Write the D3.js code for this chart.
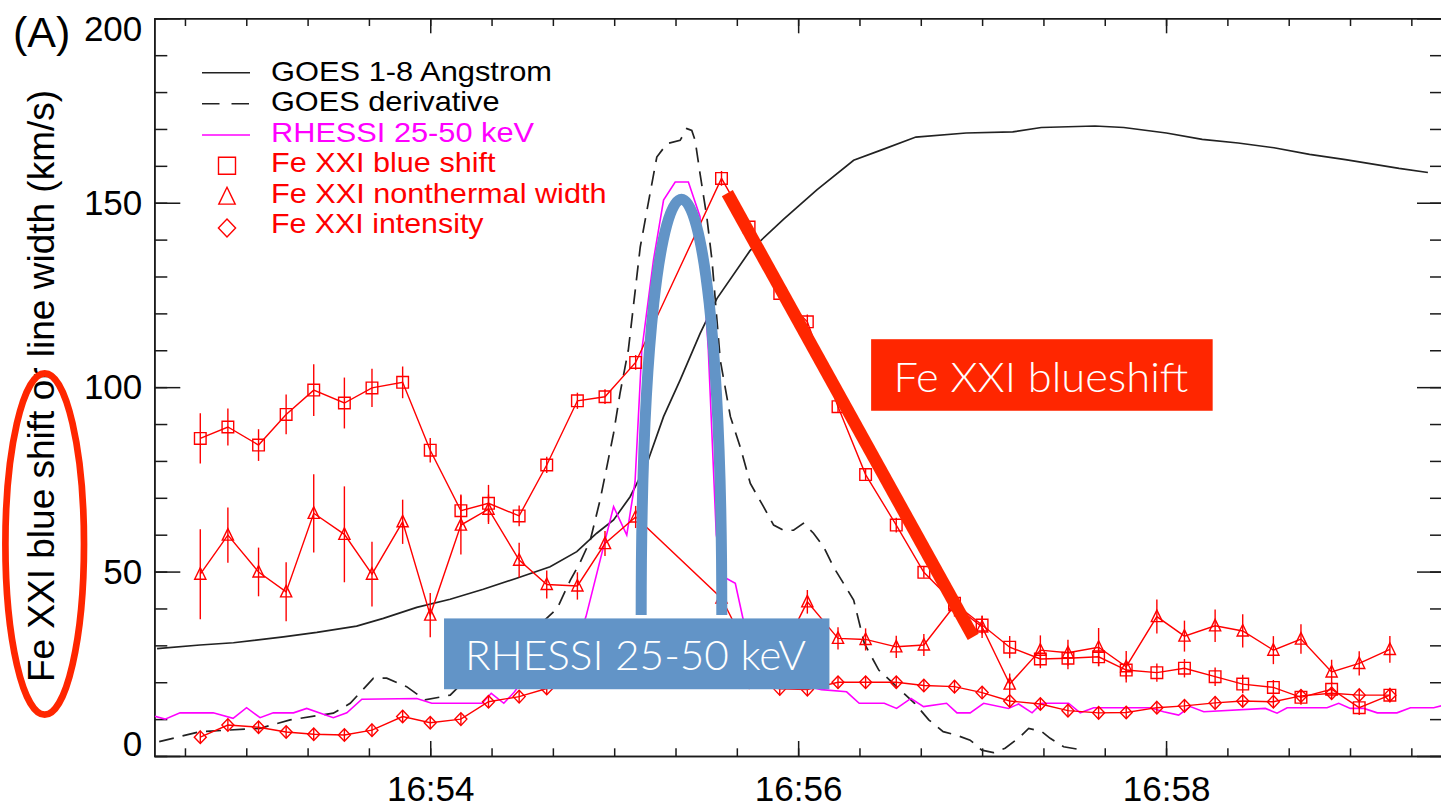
<!DOCTYPE html>
<html><head><meta charset="utf-8">
<script src="https://cdn.jsdelivr.net/npm/d3@7"></script>
<style>html,body{margin:0;padding:0;background:#fff;overflow:hidden}</style>
</head><body>
<svg id="c" width="1441" height="807"></svg>
<script>
// ---------------- DATA ----------------
const tickLabelsX = ["16:54", "16:56", "16:58"];
const tickValuesY = [0, 50, 100, 150, 200];

// Fe XXI measurements (EIS raster times)
const feTimes = ["16:52:45","16:52:54","16:53:04","16:53:13","16:53:22","16:53:32","16:53:41","16:53:51","16:54:00","16:54:10",
  "16:54:19","16:54:29","16:54:38","16:54:48","16:54:57","16:55:07","16:55:35","16:55:44","16:55:54","16:56:03",
  "16:56:13","16:56:22","16:56:32","16:56:41","16:56:51","16:57:00","16:57:09","16:57:19","16:57:28","16:57:38",
  "16:57:47","16:57:57","16:58:06","16:58:16","16:58:25","16:58:35","16:58:44","16:58:54","16:59:03","16:59:13"];
const blueShift = [86.1,89.2,84.3,92.6,99.2,95.7,99.8,101.3,82.9,66.5,
  68.5,65.1,78.9,96.3,97.4,106.7,156.6,143.4,125.4,117.7,
  94.7,76.3,62.6,49.8,41.4,35.5,29.5,26.3,26.5,26.9,
  23.3,22.6,23.8,21.5,19.5,18.6,15.9,18.1,13.1,16.5];
const blueShiftErr = [6.8,5.0,4.3,5.4,7.0,6.9,5.2,4.3,3.3,4.4,
  5.0,2.8,2.2,2.2,2.0,2.0,2.0,1.5,1.5,2.0,
  1.5,1.5,2.0,1.5,2.0,2.5,3.0,2.5,3.0,2.5,
  2.5,2.5,2.5,2.5,2.5,2.0,2.0,2.0,2.0,2.0];
const ntWidth = [49.3,59.9,49.9,44.5,65.8,60.1,49.3,63.5,38.2,62.6,
  66.9,53.1,46.5,46.1,57.6,64.8,42.8,28.0,27.0,41.8,
  31.9,31.6,29.6,30.1,40.8,35.0,19.5,28.7,28.0,29.5,
  24.2,37.8,32.5,35.3,33.9,28.7,31.7,22.8,25.1,28.9];
const ntWidthErr = [12.2,7.5,6.6,8.0,10.6,13.0,8.8,6.0,6.0,8.0,
  4.0,4.7,3.8,3.7,3.4,3.0,2.0,2.5,2.5,3.2,
  3.0,3.0,3.0,3.0,3.0,3.0,2.9,4.0,3.5,5.2,
  4.3,4.6,4.2,4.4,4.5,3.8,4.0,3.3,3.3,3.6];
const intensity = [5.1,8.4,7.8,6.5,5.9,5.7,7.0,10.7,9.0,10.0,
  14.7,16.1,18.3,21.0,23.0,25.0,22.0,20.0,18.2,18.0,
  20.0,20.0,20.0,19.1,18.8,17.2,14.9,14.1,12.3,11.7,
  11.8,13.1,13.6,14.4,14.9,14.7,16.3,17.0,16.5,16.5];
const intensityErr = [1.6,1.5,1.6,1.6,1.5,1.6,1.6,1.7,1.6,1.6,
  1.7,1.6,1.6,1.6,1.6,1.6,1.6,1.6,1.7,1.6,
  1.7,1.6,1.6,1.6,1.7,1.6,1.6,1.6,1.5,1.6,
  1.6,1.6,1.6,1.7,1.6,1.6,1.7,1.6,1.6,1.6];

// GOES 1-8 A (scaled), seconds after 16:52:00
const goesSec = [30.9,44.9,55.8,72.1,83.0,96.0,104.7,115.6,126.5,137.3,
  148.2,159.1,167.8,174.3,179.8,185.2,190.7,196.1,201.5,208.0,
  213.5,224.3,235.2,246.1,258.1,266.8,278.4,294.8,310.0,319.3,
  336.8,346.2,360.1,371.8,383.5,395.2,406.8,418.5,436.0,445.4];
const goesVal = [29.1,30.1,30.7,32.3,33.5,35.2,37.3,40.3,42.5,45.2,
  48.2,51.3,55.4,60.4,64.0,70.3,79.3,92.0,101.9,114.5,
  124.0,137.0,145.5,153.5,161.5,164.2,167.8,168.9,169.2,170.4,
  170.8,170.4,168.9,167.2,166.2,164.9,163.1,161.7,159.3,158.2];

// GOES derivative (scaled), seconds after 16:52:00
const derivSec = [31.6,44.9,64.5,74.3,88.4,93.9,101.5,105.8,112.3,118.3,
  126.5,128.8,139.5,149.3,157.5,161.4,165.7,168.9,172.2,175.4,
  177.6,179.8,181.9,184.6,188.5,190.7,193.9,197.2,201.5,203.7,
  205.3,206.4,208.0,210.2,211.9,214.6,217.9,221.1,224.4,228.7,
  232.0,235.2,238.5,241.7,245.0,248.3,251.5,254.8,258.1,261.6,
  266.3,273.3,278.0,282.6,287.3,291.4,296.1,299.9,303.7,307.5,
  312.4,315.2,319.5,322.2,326.6,331.5];
const derivVal = [3.9,6.6,7.5,9.8,11.6,14.3,21.1,21.1,18.8,15.2,
  16.5,18.4,25.0,31.0,37.0,40.0,47.7,52.5,58.5,69.4,
  78.4,87.5,98.3,110.0,138.0,148.0,162.4,166.0,166.9,170.1,
  169.6,166.9,157.9,146.2,134.4,107.3,92.0,83.8,73.9,67.6,
  62.6,61.2,61.2,63.1,60.4,56.7,51.3,46.8,42.3,30.5,
  23.3,17.9,14.3,9.8,6.6,5.7,4.3,1.6,0.9,2.1,
  5.2,7.5,6.6,4.8,2.5,1.8];

// RHESSI 25-50 keV (scaled), seconds after 16:52:00
const rhessiSec = [30.2,33.5,38.4,49.2,55.7,60.1,64.5,68.8,75.4,79.7,
  88.4,92.8,97.7,115.6,120.5,136.9,139.9,144.0,147.5,148.7,
  155.8,162.4,167.3,170.8,179.8,184.1,186.8,189.0,192.8,196.1,
  199.9,204.2,208.0,210.7,213.3,215.6,219.5,222.0,227.6,237.4,
  247.6,255.8,259.9,268.1,272.1,276.8,280.9,288.4,291.8,296.1,
  300.5,308.6,311.9,316.3,319.5,328.2,332.0,336.4,354.9,359.2,
  364.1,367.9,372.3,392.4,396.2,399.5,412.5,416.3,420.1,424.5,
  428.9,435.3,439.7,447.3,449.8];
const rhessiVal = [10.8,10.0,11.7,11.7,10.2,13.1,10.4,11.7,11.7,12.9,
  10.4,11.7,15.4,15.6,14.3,14.3,17.0,14.3,17.4,18.8,
  22.0,25.0,30.0,37.8,67.6,59.9,74.3,110.0,134.4,150.7,
  155.6,155.6,146.2,110.0,60.0,48.6,46.8,37.3,28.0,20.0,
  18.0,17.4,14.3,14.3,12.9,15.6,13.4,14.3,11.7,11.7,
  14.3,12.9,14.1,11.7,14.3,14.3,11.7,13.1,13.1,12.0,
  11.1,13.4,12.0,12.9,11.6,13.1,13.1,14.3,12.9,12.9,
  11.7,11.7,13.1,13.1,13.6];

const legendLabels = ["GOES 1-8 Angstrom","GOES derivative","RHESSI 25-50 keV","Fe XXI blue shift","Fe XXI nonthermal width","Fe XXI intensity"];

// ---------------- CHART ----------------
const svg = d3.select("#c");
const IDL = "'Liberation Sans', Arial, Helvetica, sans-serif";
const ANN = "Lato, 'Open Sans', sans-serif";
const RED = "#ff0000", MAG = "#ff00ff", INK = "#1a1a1a";
const ANN_RED = "#ff2600", ANN_BLUE = "#6294c7";

const parseT = d3.timeParse("%H:%M:%S");
const parseHM = d3.timeParse("%H:%M");
const base = parseT("16:52:00");
const toDate = s => new Date(base.getTime() + s * 1000);

const L = 154.3, R = 1442, T = 18.3, B = 756;
const x = d3.scaleTime().domain([toDate(30), toDate(450)]).range([L, R]);
const y = d3.scaleLinear().domain([0, 200]).range([B, T]);

svg.append("defs").append("clipPath").attr("id", "pc")
  .append("rect").attr("x", L).attr("y", T).attr("width", R - L).attr("height", B - T);

// ---- axes ----
const majorX = tickLabelsX.map(s => parseHM(s));
const minorX = d3.range(40, 450, 20).map(toDate);   // every 20 s
const minorY = d3.range(0, 201, 10);

function styleAxis(g) {
  g.selectAll("path.domain").attr("stroke", INK).attr("stroke-width", 1.6);
  g.selectAll(".tick line").attr("stroke", INK).attr("stroke-width", 1.5);
  g.selectAll("text").attr("fill", "#000").attr("font-family", IDL).attr("font-size", 35);
}
svg.append("g").attr("transform", `translate(0,${B})`)
  .call(d3.axisBottom(x).tickValues(minorX).tickSize(-7.7).tickSizeOuter(0).tickFormat(() => "")).call(styleAxis);
svg.append("g").attr("transform", `translate(0,${B})`)
  .call(d3.axisBottom(x).tickValues(majorX).tickSize(-15).tickSizeOuter(0).tickPadding(20)
    .tickFormat(d3.timeFormat("%H:%M"))).call(styleAxis);
svg.append("g").attr("transform", `translate(0,${T})`)
  .call(d3.axisTop(x).tickValues(minorX).tickSize(-7.7).tickSizeOuter(0).tickFormat(() => "")).call(styleAxis);
svg.append("g").attr("transform", `translate(0,${T})`)
  .call(d3.axisTop(x).tickValues(majorX).tickSize(-15).tickSizeOuter(0).tickFormat(() => "")).call(styleAxis);

svg.append("g").attr("transform", `translate(${L},0)`)
  .call(d3.axisLeft(y).tickValues(minorY).tickSize(-13).tickSizeOuter(0).tickFormat(() => "")).call(styleAxis);
const yAx = svg.append("g").attr("transform", `translate(${L},0)`)
  .call(d3.axisLeft(y).tickValues(tickValuesY).tickSize(-26).tickSizeOuter(0).tickPadding(12)).call(styleAxis);
yAx.selectAll("text").attr("dy", d => d === 200 ? 21.7 : (d === 0 ? -1 : 11.5));
svg.append("g").attr("transform", `translate(${R},0)`)
  .call(d3.axisRight(y).tickValues(minorY).tickSize(-12).tickSizeOuter(0).tickFormat(() => "")).call(styleAxis);
svg.append("g").attr("transform", `translate(${R},0)`)
  .call(d3.axisRight(y).tickValues(tickValuesY).tickSize(-25).tickSizeOuter(0).tickFormat(() => "")).call(styleAxis);

// titles
svg.append("text").attr("x", 13).attr("y", 46.5).attr("font-family", IDL).attr("font-size", 43)
  .attr("fill", "#000").text("(A)");
svg.append("text").attr("transform", "translate(53.5,386) rotate(-90)").attr("text-anchor", "middle")
  .attr("font-family", IDL).attr("font-size", 37).attr("fill", "#000")
  .text("Fe XXI blue shift or line width (km/s)");

// ---- data layers ----
const plot = svg.append("g").attr("clip-path", "url(#pc)");
const lineGen = d3.line().x(d => x(d.t)).y(d => y(d.v));

const goes = goesSec.map((s, i) => ({ t: toDate(s), v: goesVal[i] }));
const deriv = derivSec.map((s, i) => ({ t: toDate(s), v: derivVal[i] }));
const rhessi = rhessiSec.map((s, i) => ({ t: toDate(s), v: rhessiVal[i] }));

plot.append("path").datum(goes).attr("d", lineGen).attr("fill", "none")
  .attr("stroke", "#222").attr("stroke-width", 1.7);
plot.append("path").datum(deriv).attr("d", lineGen).attr("fill", "none")
  .attr("stroke", "#222").attr("stroke-width", 1.7).attr("stroke-dasharray", "15,9");
plot.append("path").datum(rhessi).attr("d", lineGen).attr("fill", "none")
  .attr("stroke", MAG).attr("stroke-width", 1.6);

const sym = {
  square: s => `M${-s},${-s}H${s}V${s}H${-s}Z`,
  triangle: s => `M0,${-s * 1.15}L${s},${s * 0.9}L${-s},${s * 0.9}Z`,
  diamond: s => `M0,${-s * 1.05}L${s},0L0,${s * 1.05}L${-s},0Z`
};

function feSeries(vals, errs, shape, size) {
  const data = feTimes.map((t, i) => ({ t: parseT(t), v: vals[i], e: errs[i] }));
  const g = plot.append("g");
  g.append("path").datum(data).attr("d", lineGen).attr("fill", "none")
    .attr("stroke", RED).attr("stroke-width", 1.4);
  g.selectAll("line.err").data(data).join("line").attr("class", "err")
    .attr("x1", d => x(d.t)).attr("x2", d => x(d.t))
    .attr("y1", d => y(d.v - d.e)).attr("y2", d => y(d.v + d.e))
    .attr("stroke", RED).attr("stroke-width", 1.4);
  g.selectAll("path.m").data(data).join("path").attr("class", "m")
    .attr("d", sym[shape](size))
    .attr("transform", d => `translate(${x(d.t)},${y(d.v)})`)
    .attr("fill", "none").attr("stroke", RED).attr("stroke-width", 1.4);
}
feSeries(intensity, intensityErr, "diamond", 6);
feSeries(ntWidth, ntWidthErr, "triangle", 5.6);
feSeries(blueShift, blueShiftErr, "square", 5.8);

// ---- legend ----
const lg = svg.append("g");
const rowBase = [80.5, 111, 141.5, 172, 202.5, 233];
const legendWidths = [281, 228.5, 263, 224.5, 335.5, 212.5];
const legendColors = ["#000", "#000", MAG, RED, RED, RED];
legendLabels.forEach((lab, i) => {
  lg.append("text").attr("x", 271).attr("y", rowBase[i]).attr("font-family", IDL)
    .attr("font-size", 28).attr("fill", legendColors[i])
    .attr("textLength", legendWidths[i]).attr("lengthAdjust", "spacingAndGlyphs").text(lab);
});
lg.append("line").attr("x1", 202).attr("x2", 250).attr("y1", 72.7).attr("y2", 72.7)
  .attr("stroke", "#222").attr("stroke-width", 1.6);
lg.append("line").attr("x1", 202).attr("x2", 250).attr("y1", 103.7).attr("y2", 103.7)
  .attr("stroke", "#222").attr("stroke-width", 1.6).attr("stroke-dasharray", "17.5,12");
lg.append("line").attr("x1", 202).attr("x2", 250).attr("y1", 135).attr("y2", 135)
  .attr("stroke", MAG).attr("stroke-width", 1.6);
[["square", 165.7, 8.5], ["triangle", 196.7, 8.2], ["diamond", 228, 8.6]].forEach(([s, yy, sz]) => {
  lg.append("path").attr("d", sym[s](sz)).attr("transform", `translate(227,${yy})`)
    .attr("fill", "none").attr("stroke", RED).attr("stroke-width", 1.4);
});

// ---- annotations (anchored in data space) ----
const ann = svg.append("g");
// blue arch over RHESSI peak
const archL = toDate(188.8), archR = toDate(215.1), archBot = 38.2, archCtrl = 188.5;
ann.append("path")
  .attr("d", `M${x(archL)},${y(archBot)} C${x(archL)},${y(archCtrl)} ${x(archR)},${y(archCtrl)} ${x(archR)},${y(archBot)}`)
  .attr("fill", "none").attr("stroke", ANN_BLUE).attr("stroke-width", 11);
// blue label box
const bx0 = toDate(124.5), bx1 = toDate(250.2), by0 = 37.3, by1 = 18.1;
ann.append("rect").attr("x", x(bx0)).attr("y", y(by0)).attr("width", x(bx1) - x(bx0))
  .attr("height", y(by1) - y(by0)).attr("fill", ANN_BLUE);
ann.append("text").attr("x", x(bx0) + 21).attr("y", y(by0) + 52).attr("font-family", ANN)
  .attr("font-weight", 300).attr("font-size", 42).attr("fill", "#fff")
  .attr("textLength", 341).attr("lengthAdjust", "spacingAndGlyphs").text("RHESSI 25-50 keV");
// red trend line on blue shift decay
const rl0 = toDate(216.9), rl1 = toDate(297.1);
ann.append("line").attr("x1", x(rl0)).attr("y1", y(152.6)).attr("x2", x(rl1)).attr("y2", y(32.3))
  .attr("stroke", ANN_RED).attr("stroke-width", 12.5);
// red label box
const rx0 = toDate(263.8), rx1 = toDate(375.2), ry0 = 113.0, ry1 = 93.6;
ann.append("rect").attr("x", x(rx0)).attr("y", y(ry0)).attr("width", x(rx1) - x(rx0))
  .attr("height", y(ry1) - y(ry0)).attr("fill", ANN_RED);
ann.append("text").attr("x", x(rx0) + 22.3).attr("y", y(ry0) + 52.7).attr("font-family", ANN)
  .attr("font-weight", 300).attr("font-size", 41).attr("fill", "#fff")
  .attr("textLength", 295).attr("lengthAdjust", "spacingAndGlyphs").text("Fe XXI blueshift");
// red ellipse around axis title
ann.append("ellipse").attr("cx", 44.7).attr("cy", 544).attr("rx", 39.3).attr("ry", 170.7)
  .attr("fill", "none").attr("stroke", ANN_RED).attr("stroke-width", 6.7);
</script>
</body></html>
